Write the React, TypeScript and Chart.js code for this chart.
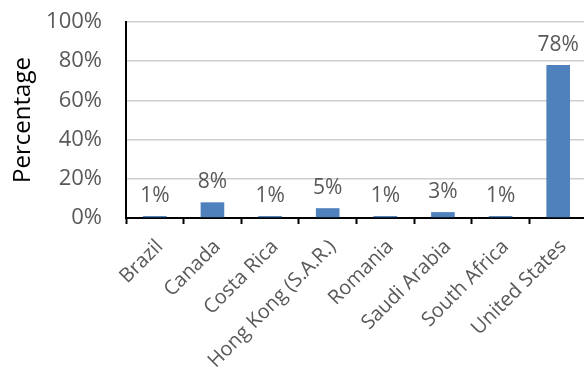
import React, { useEffect, useRef } from "react";
import { Chart, registerables } from "chart.js";

Chart.register(...registerables);

const categories = [
  "Brazil",
  "Canada",
  "Costa Rica",
  "Hong Kong (S.A.R.)",
  "Romania",
  "Saudi Arabia",
  "South Africa",
  "United States",
];
const percentages = [1, 8, 1, 5, 1, 3, 1, 78];
const yTickValues = [0, 20, 40, 60, 80, 100];

const FONT = "'Open Sans', 'Noto Sans', sans-serif";
const BAR_COLOR = "#4F81BD";
const TEXT_GRAY = "#595959";

// Writes "n%" above each bar
const valueLabels = {
  id: "valueLabels",
  afterDatasetsDraw(chart: any) {
    const ctx = chart.ctx;
    const meta = chart.getDatasetMeta(0);
    ctx.save();
    ctx.font = `21px ${FONT}`;
    ctx.fillStyle = TEXT_GRAY;
    ctx.textAlign = "center";
    ctx.textBaseline = "alphabetic";
    meta.data.forEach((bar: any, i: number) => {
      ctx.fillText(`${percentages[i]}%`, bar.x, bar.y - 14);
    });
    ctx.restore();
  },
};

export default function App() {
  const canvasRef = useRef<HTMLCanvasElement | null>(null);

  useEffect(() => {
    if (!canvasRef.current) return;
    const chart = new Chart(canvasRef.current, {
      type: "bar",
      data: {
        labels: categories,
        datasets: [
          {
            data: percentages,
            backgroundColor: BAR_COLOR,
            borderWidth: 0,
            categoryPercentage: 1,
            barPercentage: 0.41,
          },
        ],
      },
      options: {
        responsive: false,
        animation: false,
        devicePixelRatio: 1,
        layout: { padding: { top: 22, right: 3, left: 0, bottom: 0 } },
        plugins: {
          legend: { display: false },
          tooltip: { enabled: false },
        },
        scales: {
          x: {
            afterFit(scale: any) {
              scale.height = 155;
            },
            grid: {
              display: true,
              drawOnChartArea: false,
              drawTicks: true,
              tickLength: 6,
              tickColor: "#000000",
              tickWidth: 2,
              offset: true,
            },
            border: { display: true, color: "#000000", width: 2 },
            ticks: {
              minRotation: 45,
              maxRotation: 45,
              autoSkip: false,
              padding: 11,
              labelOffset: 5,
              color: TEXT_GRAY,
              font: { family: FONT, size: 20 },
            },
          },
          y: {
            min: 0,
            max: 100,
            afterFit(scale: any) {
              scale.width = 126;
            },
            afterBuildTicks(scale: any) {
              scale.ticks = yTickValues.map((v) => ({ value: v }));
            },
            grid: {
              drawTicks: true,
              tickLength: 24,
              tickColor: "rgba(0,0,0,0)",
              lineWidth: 1.5,
              color: (c: any) =>
                c.tick && c.tick.value === 0 ? "rgba(0,0,0,0)" : "#cfcfcf",
            },
            border: { display: true, color: "#000000", width: 2 },
            ticks: {
              padding: 0,
              color: TEXT_GRAY,
              font: { family: FONT, size: 22 },
              callback: (v: any) => `${v}%`,
            },
            title: {
              display: true,
              text: "Percentage",
              color: "#000000",
              padding: { top: 9, bottom: 0 },
              font: { family: FONT, size: 24 },
            },
          },
        },
      },
      plugins: [valueLabels],
    });
    return () => chart.destroy();
  }, []);

  return (
    <div
      style={{
        position: "fixed",
        left: 0,
        top: 0,
        width: 584,
        height: 373,
        overflow: "hidden",
        background: "#ffffff",
      }}
    >
      <canvas ref={canvasRef} width={590} height={373} style={{ display: "block" }} />
    </div>
  );
}
